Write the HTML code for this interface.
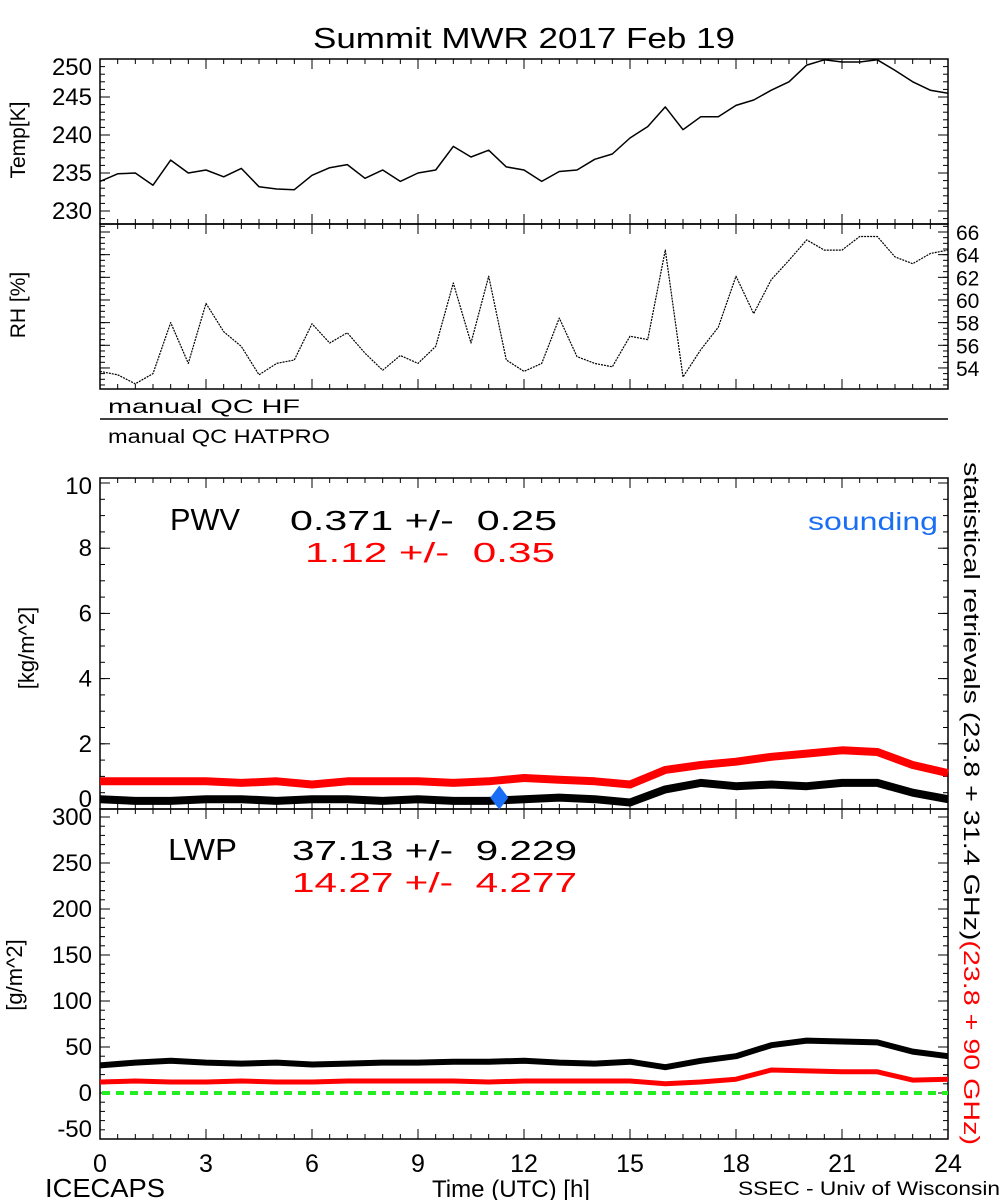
<!DOCTYPE html>
<html><head><meta charset="utf-8"><style>
html,body{margin:0;padding:0;background:#fff;}
svg{display:block;font-family:"Liberation Sans",sans-serif;}
</style></head><body>
<svg id="chart" width="1000" height="1200" viewBox="0 0 1000 1200" xmlns="http://www.w3.org/2000/svg">
<rect width="1000" height="1200" fill="#fff"/>
<text x="313" y="48" font-size="29" textLength="422" lengthAdjust="spacingAndGlyphs" fill="#000">Summit MWR 2017 Feb 19</text>
<g id="axes"></g>
<g id="series"></g>
<text transform="translate(25,140) rotate(-90)" font-size="21" text-anchor="middle">Temp[K]</text>
<text transform="translate(25,305) rotate(-90)" font-size="21" text-anchor="middle">RH [%]</text>
<text transform="translate(34,648) rotate(-90)" font-size="22" text-anchor="middle">[kg/m^2]</text>
<text transform="translate(22,975) rotate(-90)" font-size="22" text-anchor="middle">[g/m^2]</text>
<text x="108" y="413" font-size="19" textLength="192" lengthAdjust="spacingAndGlyphs">manual QC HF</text>
<text x="108" y="443" font-size="19" textLength="222" lengthAdjust="spacingAndGlyphs">manual QC HATPRO</text>
<text x="170" y="530" font-size="31" textLength="70" lengthAdjust="spacingAndGlyphs">PWV</text>
<text x="290" y="530" font-size="28" textLength="267" lengthAdjust="spacingAndGlyphs" xml:space="preserve">0.371 +/-  0.25</text>
<text x="305" y="562" font-size="28" fill="#ff0000" textLength="250" lengthAdjust="spacingAndGlyphs" xml:space="preserve">1.12 +/-  0.35</text>
<text x="808" y="530" font-size="25" fill="#1a6ef5" textLength="130" lengthAdjust="spacingAndGlyphs">sounding</text>
<text x="168" y="860" font-size="31" textLength="69" lengthAdjust="spacingAndGlyphs">LWP</text>
<text x="292" y="860" font-size="28" textLength="285" lengthAdjust="spacingAndGlyphs" xml:space="preserve">37.13 +/-  9.229</text>
<text x="292" y="892" font-size="28" fill="#ff0000" textLength="285" lengthAdjust="spacingAndGlyphs" xml:space="preserve">14.27 +/-  4.277</text>
<text transform="translate(964,462) rotate(90)" font-size="22.5" textLength="683" lengthAdjust="spacingAndGlyphs"><tspan fill="#000">statistical retrievals (23.8 + 31.4 GHz)</tspan><tspan fill="#ff0000">(23.8 + 90 GHz)</tspan></text>
<text x="432" y="1197" font-size="24" textLength="158" lengthAdjust="spacingAndGlyphs">Time (UTC) [h]</text>
<text x="45" y="1197" font-size="26" textLength="120" lengthAdjust="spacingAndGlyphs">ICECAPS</text>
<text x="738" y="1195" font-size="19" textLength="262" lengthAdjust="spacingAndGlyphs">SSEC - Univ of Wisconsin</text>
</svg>
<script>
const hours = [0,0.5,1,1.5,2,2.5,3,3.5,4,4.5,5,5.5,6,6.5,7,7.5,8,8.5,9,9.5,10,10.5,11,11.5,12,12.5,13,13.5,14,14.5,15,15.5,16,16.5,17,17.5,18,18.5,19,19.5,20,20.5,21,21.5,22,22.5,23,23.5,24];
const tempK = [233.9,234.9,235.0,233.4,236.7,235.0,235.4,234.5,235.6,233.2,232.9,232.8,234.7,235.7,236.1,234.3,235.4,233.9,235.0,235.4,238.5,237.1,238.0,235.8,235.4,233.9,235.2,235.4,236.8,237.5,239.6,241.1,243.7,240.7,242.4,242.4,243.9,244.6,245.9,247.0,249.2,249.9,249.6,249.6,249.9,248.5,247.0,245.9,245.5];
const rhPct = [53.7,53.4,52.6,53.5,58.0,54.4,59.7,57.2,55.9,53.4,54.4,54.7,57.9,56.2,57.1,55.3,53.8,55.1,54.4,55.9,61.5,56.2,62.1,54.7,53.7,54.4,58.4,55.0,54.4,54.1,56.8,56.5,64.4,53.2,55.6,57.6,62.1,58.8,61.8,63.5,65.3,64.4,64.4,65.6,65.6,63.8,63.2,64.1,64.4];
const hourly = [0,1,2,3,4,5,6,7,8,9,10,11,12,13,14,15,16,17,18,19,20,21,22,23,24];
const pwvBlack = [0.3,0.25,0.25,0.3,0.3,0.25,0.3,0.3,0.25,0.3,0.25,0.25,0.3,0.35,0.3,0.2,0.6,0.8,0.7,0.75,0.7,0.8,0.8,0.5,0.3];
const pwvRed = [0.85,0.85,0.85,0.85,0.8,0.85,0.75,0.85,0.85,0.85,0.8,0.85,0.95,0.9,0.85,0.75,1.2,1.35,1.45,1.6,1.7,1.8,1.75,1.35,1.1];
const lwpBlack = [30,33,35,33,32,33,31,32,33,33,34,34,35,33,32,34,28,35,40,52,57,56,55,45,40];
const lwpRed = [12,13,12,12,13,12,12,13,13,13,13,12,13,13,13,13,10,12,15,25,24,23,23,14,15];
const soundingHour = [11.3];
const soundingPwv = [0.35];
const xTicks = [0,3,6,9,12,15,18,21,24];
const tempTicks = [230,235,240,245,250];
const rhTicks = [54,56,58,60,62,64,66];
const pwvTicks = [0,2,4,6,8,10];
const lwpTicks = [-50,0,50,100,150,200,250,300];

const NS='http://www.w3.org/2000/svg';
const X0=100,X1=948;
const xs=h=>X0+(X1-X0)*h/24;
const yT=v=>59+(250-v)*7.6;
const yR=v=>232+(66-v)*11.33;
const yP=v=>809-v*32.6;
const yL=v=>1093-v*0.92;
const ax=document.getElementById('axes');
const se=document.getElementById('series');
function mk(tag,attrs,parent){const e=document.createElementNS(NS,tag);for(const k in attrs)e.setAttribute(k,attrs[k]);parent.appendChild(e);return e;}
function line(x1,y1,x2,y2,w,p){return mk('line',{x1:x1,y1:y1,x2:x2,y2:y2,stroke:'#000','stroke-width':w||1.5},p||ax);}

const panels=[[59,224],[224,389],[478,809],[809,1139]];
panels.forEach(([t,b],i)=>{const r=mk('rect',{x:X0,y:t,width:X1-X0,height:b-t,fill:'none',stroke:'#000','stroke-width':1.5},ax);

});
const sep=line(X0,419,X1,419,1.5);



panels.forEach(([t,b])=>{for(let h=0;h<=24;h+=0.5){const major=h%3===0;const L=major?10:5;line(xs(h),b,xs(h),b-L,1);line(xs(h),t,xs(h),t+L,1);}});
xTicks.forEach(h=>{const t=mk('text',{x:xs(h),y:1172,'font-size':25,'text-anchor':'middle'},ax);t.textContent=h;

});

function yaxis(ticks,f,t,b,labelSide,minorStep,clampTop){
  const lo=Math.min(...ticks),hi=Math.max(...ticks);
  for(let v=lo-minorStep*10;v<=hi+minorStep*10;v+=minorStep){const y=f(v);if(y<t-0.5||y>b+0.5)continue;line(X0,y,X0+5,y,1);line(X1,y,X1-5,y,1);}
  ticks.forEach(v=>{let y=f(v);line(X0,y,X0+10,y,1);line(X1,y,X1-10,y,1);
    let ty=y+8;if(ty<t+16&&clampTop)ty=t+16;if(ty>b)ty=b-2;
    const tx=labelSide==='left'?92:956;
    const e=mk('text',{x:tx,y:ty,'font-size':labelSide==='left'?24:21,'text-anchor':labelSide==='left'?'end':'start'},ax);e.textContent=v;
    
    });
}
yaxis(tempTicks,yT,59,224,'left',1,true);
yaxis(rhTicks,yR,224,389,'right',0.5,false);
yaxis(pwvTicks,yP,478,809,'left',0.5,true);
yaxis(lwpTicks,yL,809,1139,'left',10,true);

function path(xv,yv,fx,fy,color,w,name,dash){
  const d=xv.map((h,i)=>(i?'L':'M')+fx(h).toFixed(1)+','+fy(yv[i]).toFixed(1)).join('');
  const p=mk('path',{d:d,fill:'none',stroke:color,'stroke-width':w,'stroke-linejoin':'round'},se);
  if(dash)p.setAttribute('stroke-dasharray',dash);
  
  
}
path(hours,tempK,xs,yT,'#000',1.5,'temp-line');
path(hours,rhPct,xs,yR,'#000',1.2,'rh-line','2 1');
path(hourly,pwvRed,xs,yP,'#ff0000',8,'pwv-red-line');
path(hourly,pwvBlack,xs,yP,'#000',8,'pwv-black-line');
path(hourly,lwpBlack,xs,yL,'#000',6,'lwp-black-line');
path(hourly,lwpRed,xs,yL,'#ff0000',5,'lwp-red-line');
const z=mk('line',{x1:X0+2,y1:yL(0),x2:X1,y2:yL(0),stroke:'#22ee22','stroke-width':4,'stroke-dasharray':'8 6'},se);


soundingHour.forEach((h,i)=>{const cx=xs(h),cy=yP(soundingPwv[i]);
  const d=mk('polygon',{points:`${cx},${cy-12} ${cx+9},${cy} ${cx},${cy+12} ${cx-9},${cy}`,fill:'#1a6ef5'},se);
  
  });
</script>
</body></html>
